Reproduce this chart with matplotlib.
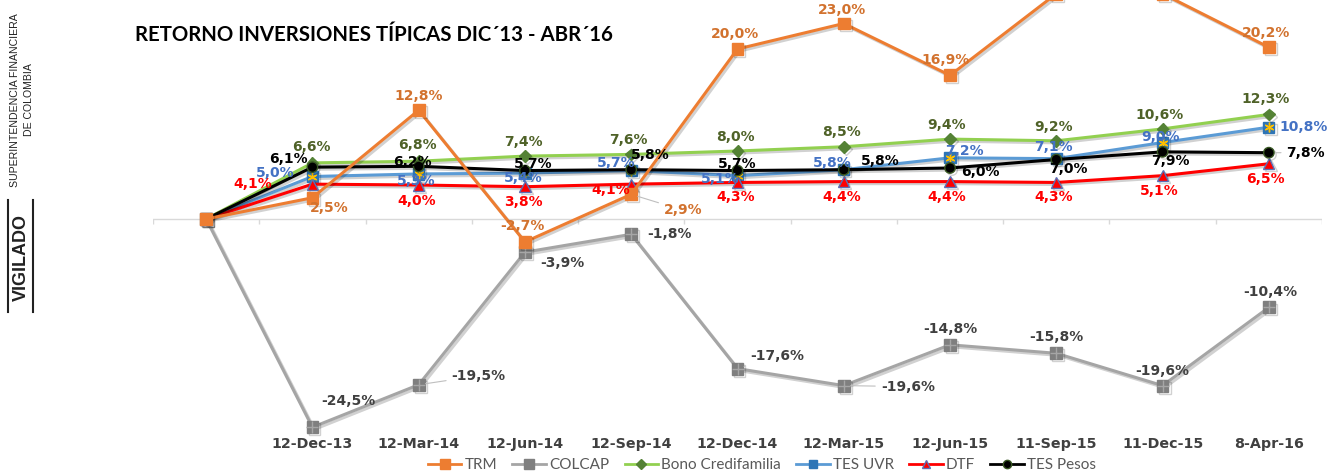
import matplotlib
matplotlib.use("Agg")
import matplotlib.pyplot as plt
import matplotlib.patheffects as pe
from matplotlib.lines import Line2D

# ---------------- data ----------------
categories = ["", "12-Dec-13", "12-Mar-14", "12-Jun-14", "12-Sep-14", "12-Dec-14",
              "12-Mar-15", "12-Jun-15", "11-Sep-15", "11-Dec-15", "8-Apr-16"]
trm = [0, 2.5, 12.8, -2.7, 2.9, 20.0, 23.0, 16.9, 26.5, 26.5, 20.2]
colcap = [0, -24.5, -19.5, -3.9, -1.8, -17.6, -19.6, -14.8, -15.8, -19.6, -10.4]
bono = [0, 6.6, 6.8, 7.4, 7.6, 8.0, 8.5, 9.4, 9.2, 10.6, 12.3]
tes_uvr = [0, 5.0, 5.3, 5.4, 5.7, 5.1, 5.8, 7.2, 7.1, 9.0, 10.8]
dtf = [0, 4.1, 4.0, 3.8, 4.1, 4.3, 4.4, 4.4, 4.3, 5.1, 6.5]
tes_pesos = [0, 6.1, 6.2, 5.7, 5.8, 5.7, 5.8, 6.0, 7.0, 7.9, 7.8]

# ---------------- label placement (pixels, dy up); None = label lies outside the picture ----------------
off_trm = [(17, -10), (0, 14), (-3, 16), (52, -16), (-2, 15), (-2, 14), (-4, 15), None, None, (-3, 14)]
off_colcap = [(36, 26), (60, 9), (37, -11), (38, 0), (40, 13), (64, -1), (0, 16), (0, 16), (0, 15), (1, 15)]
off_bono = [(-1, 16), (-1, 16), (-2, 14), (-3, 14), (-2, 14), (-2, 15), (-3, 14), (-3, 14), (-3, 14), (-3, 15)]
off_uvr = [(-37, 4), (-2, -7), (-2, -5), (-15, 8), (-17, -3), (-12, 7), (14, 7), (-3, 12), (-2, 6), (35, 0)]
off_dtf = [(-60, 0), (-2, -16), (-2, -15), (-20, -6), (-2, -15), (-2, -15), (-3, -15), (-3, -15), (-3, -15), (-3, -15)]
off_pesos = [(-24, 8), (-6, 4), (8, 7), (19, 15), (0, 7), (36, 9), (30, -4), (12, -9), (8, -9), (37, 0)]
leaders = {("TRM", 4), ("COLCAP", 2), ("COLCAP", 5), ("COLCAP", 6), ("TES Pesos", 10)}

W, H = 1338, 473
fig = plt.figure(figsize=(W / 100, H / 100), dpi=100)
fig.patch.set_facecolor("white")

ymin, ymax = -25, 27
ppu = 8.5
y0_px = 219
top_px = y0_px - ymax * ppu
bot_px = y0_px - ymin * ppu
ax = fig.add_axes([153 / W, (H - bot_px) / H, 1169 / W, (bot_px - top_px) / H])
ax.set_xlim(-0.5, 10.5)
ax.set_ylim(ymin, ymax)
for s in ax.spines.values():
    s.set_visible(False)
ax.set_yticks([])
x = list(range(len(categories)))
ax.set_xticks(x[1:])
ax.set_xticklabels(categories[1:], fontsize=10.3, fontweight="bold", color="#404040",
                   family="DejaVu Sans")
ax.tick_params(axis="x", length=0, pad=4)

# category axis at zero with boundary ticks
ax.plot([-0.5, 10.5], [0, 0], color="#D9D9D9", lw=1, zorder=1)
ax.vlines([k - 0.5 for k in range(12)], -0.6, 0, color="#D9D9D9", lw=1, zorder=1)

shadow = [pe.SimpleLineShadow(offset=(1.5, -1.5), shadow_color="#000000", alpha=0.18), pe.Normal()]

series = [
    ("TES UVR", tes_uvr, "#5B9BD5", "s", "#2E75B6", "#2E75B6", 8, 3, off_uvr, "#4472C4"),
    ("DTF", dtf, "#FF0000", "^", "#FF0000", "#5B6FB5", 8, 4, off_dtf, "#FF0000"),
    ("Bono Credifamilia", bono, "#92D050", "D", "#548235", "#548235", 6, 4, off_bono, "#4F6228"),
    ("TES Pesos", tes_pesos, "#000000", "o", "#000000", "#385723", 7.5, 5, off_pesos, "#000000"),
    ("COLCAP", colcap, "#A5A5A5", "s", "#7F7F7F", "#7F7F7F", 8.5, 3, off_colcap, "#404040"),
    ("TRM", trm, "#ED7D31", "s", "#ED7D31", "#ED7D31", 8.5, 6, off_trm, "#D2722E"),
]

handles = {}
for name, vals, lc, mk, mfc, mec, ms, z, offs, tc in series:
    ln, = ax.plot(x, vals, color=lc, lw=2.2, marker=mk, markersize=ms, markerfacecolor=mfc,
                  markeredgecolor=mec, markeredgewidth=1, zorder=z, path_effects=shadow,
                  clip_on=False)
    extra = None
    if name == "TES UVR":
        extra, = ax.plot(x, vals, ls="none", marker=(6, 2, 0), markersize=7, markeredgecolor="#FFC000",
                         markeredgewidth=1, zorder=z + 0.1, clip_on=False)
    if name == "COLCAP":
        extra, = ax.plot(x, vals, ls="none", marker="+", markersize=8, markeredgecolor="#A6A6A6",
                         markeredgewidth=1, zorder=z + 0.1, clip_on=False)
    handles[name] = (ln, extra)
    for i in range(1, len(vals)):
        if offs[i - 1] is None:
            continue
        dx, dy = offs[i - 1]
        lab = f"{vals[i]:.1f}%".replace(".", ",")
        kw = {}
        if (name, i) in leaders:
            kw["arrowprops"] = dict(arrowstyle="-", color="#BFBFBF", lw=0.8, shrinkA=2, shrinkB=5)
        ax.annotate(lab, (x[i], vals[i]), xytext=(dx, dy), textcoords="offset pixels",
                    ha="center", va="center", fontsize=10, fontweight="bold", color=tc,
                    family="DejaVu Sans", zorder=10, annotation_clip=False, **kw)

# legend
order = ["TRM", "COLCAP", "Bono Credifamilia", "TES UVR", "DTF", "TES Pesos"]
leg_handles = []
for nm in order:
    ln, extra = handles[nm]
    h = Line2D([], [], color=ln.get_color(), lw=2, marker=ln.get_marker(),
               markersize=ln.get_markersize() * 0.8, markerfacecolor=ln.get_markerfacecolor(),
               markeredgecolor=ln.get_markeredgecolor())
    leg_handles.append(h)
fig.legend(leg_handles, order, loc="center", bbox_to_anchor=(762 / W, 1 - 465 / H), ncol=6,
           frameon=False, prop={"family": "Lato", "size": 11}, labelcolor="#595959",
           handlelength=2.2, handletextpad=0.2, columnspacing=1.0)

# title
fig.text(135 / W, 1 - 35 / H, "RETORNO INVERSIONES TÍPICAS DIC´13 - ABR´16", ha="left", va="center",
         fontsize=14.7, fontweight="bold", family="Lato", color="#000000")

# side texts
fig.text(15 / W, 1 - 100 / H, "SUPERINTENDENCIA FINANCIERA", rotation=90, ha="center", va="center",
         fontsize=7.6, family="Liberation Sans", color="#222222")
fig.text(29 / W, 1 - 100 / H, "DE COLOMBIA", rotation=90, ha="center", va="center",
         fontsize=7.6, family="Liberation Sans", color="#222222")
fig.text(21 / W, 1 - 257 / H, "VIGILADO", rotation=90, ha="center", va="center",
         fontsize=13, fontweight="bold", family="Liberation Sans", color="#222222")
fig.add_artist(Line2D([8 / W, 8 / W], [1 - 200 / H, 1 - 312 / H], color="#222222", lw=1.5))
fig.add_artist(Line2D([33 / W, 33 / W], [1 - 200 / H, 1 - 312 / H], color="#222222", lw=1.5))

fig.savefig("out.png", dpi=100)
